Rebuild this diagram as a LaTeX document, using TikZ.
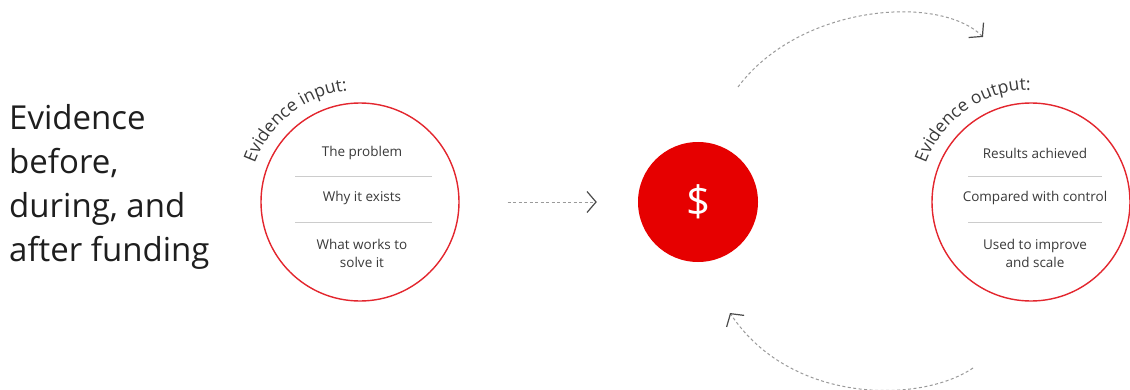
\documentclass[tikz,border=0pt]{standalone}
\usepackage{fontspec}
\setmainfont{Open Sans}
\usetikzlibrary{arrows.meta,decorations.text,calc}
\definecolor{rimred}{HTML}{E3262E}
\definecolor{fillred}{HTML}{E60000}
\definecolor{bodytext}{HTML}{3A3A3A}
\definecolor{bigtext}{HTML}{1E1E1E}
\definecolor{sepgray}{HTML}{CCCCCC}
\definecolor{dashgray}{HTML}{9A9A9A}
\definecolor{tipgray}{HTML}{4A4A4A}
\begin{document}
\begin{tikzpicture}[x=1pt,y=1pt,
  ring/.style={circle, draw=rimred, line width=1.4pt, minimum size=198pt, inner sep=0pt},
  item/.style={font=\fontsize{13.5}{18}\selectfont, text=bodytext, align=center, inner sep=0pt},
  sepline/.style={draw=sepgray, line width=0.8pt},
  flow/.style={draw=dashgray, line width=1pt, dash pattern=on 3pt off 2.5pt,
    -{Straight Barb[length=9pt,width=21pt,line width=1.2pt,color=tipgray]}},
  arclabel/.style={decorate, decoration={text along path, text align=left,
    text={|\fontsize{17.5}{17.5}\selectfont\color{bodytext}|#1}}}
]
\useasboundingbox (0,0) rectangle (1130,389);
\fill[white] (0,0) rectangle (1130,389);

% left title
\node[anchor=north west, align=left, inner sep=0pt, text=bigtext,
  font=\fontsize{33}{44}\selectfont] (title) at (9,285)
  {Evidence\\before,\\during, and\\after funding};

% input circle
\node[ring] (inL) at (360,187) {};
\path[arclabel={Evidence input:}] ($(inL.center)+(160:112)$) arc[start angle=160, end angle=40, radius=112];
\node[item] (i1) at (362,236) {The problem};
\node[item] (i2) at (362,191) {Why it exists};
\node[item] (i3) at (362,136) {What works to\\solve it};
\coordinate (s1a) at (295,213); \coordinate (s1b) at (432,213);
\coordinate (s2a) at (295,167); \coordinate (s2b) at (432,167);
\draw[sepline] (s1a) -- (s1b);
\draw[sepline] (s2a) -- (s2b);

% funding
\node[circle, fill=fillred, minimum size=120pt, inner sep=0pt, text=white,
  font=\fontsize{42}{42}\selectfont] (fund) at (698,187) {\$};

% output circle
\node[ring] (outR) at (1031,187) {};
\path[arclabel={Evidence output:}] ($(outR.center)+(160:112)$) arc[start angle=160, end angle=30, radius=112];
\node[item] (o1) at (1035,236) {Results achieved};
\node[item] (o2) at (1035,191) {Compared with control};
\node[item] (o3) at (1035,136) {Used to improve\\and scale};
\coordinate (s3a) at (968,213); \coordinate (s3b) at (1102,213);
\coordinate (s4a) at (968,167); \coordinate (s4b) at (1102,167);
\draw[sepline] (s3a) -- (s3b);
\draw[sepline] (s4a) -- (s4b);

% connectors
\draw[flow, shorten <=48pt, shorten >=41pt] (inL) -- (fund);
\coordinate (t1) at (738,302);
\coordinate (t2) at (983,352);
\draw[flow] (t1) .. controls (800,385) and (940,395) .. (t2);
\coordinate (b1) at (973,21);
\coordinate (b2) at (730,76);
\draw[flow] (b1) .. controls (920,-15) and (790,-15) .. (b2);
\end{tikzpicture}
\end{document}
